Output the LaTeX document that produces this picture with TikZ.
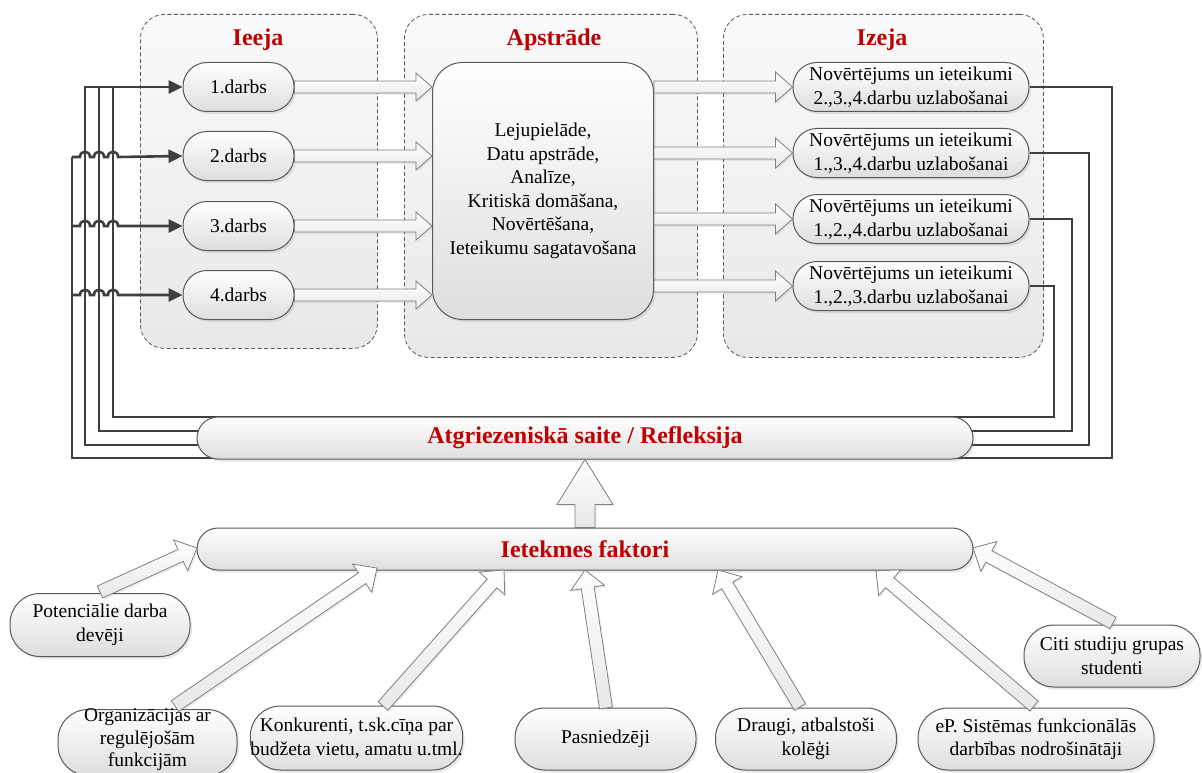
\documentclass[tikz,border=0pt]{standalone}
\usepackage{fontspec}
\setmainfont{Liberation Serif}
\usetikzlibrary{calc,shadows,arrows.meta}
\pgfdeclarelayer{grpL}
\pgfdeclarelayer{lineL}
\pgfsetlayers{grpL,lineL,main}
\definecolor{lineC}{HTML}{3F3F3F}
\definecolor{redT}{HTML}{C00000}
\definecolor{edgeC}{HTML}{595959}
\definecolor{arrC}{HTML}{7F7F7F}
\tikzset{
  every node/.style={font=\fontsize{19.5}{23.5}\selectfont},
  grp/.style={draw=edgeC, dash pattern=on 4pt off 2.5pt, line width=0.8pt, rounded corners=24pt,
    top color=white!98!black, bottom color=white!91!black, inner sep=0pt},
  pill/.style={draw=edgeC, line width=1pt, top color=white, bottom color=white!87!black,
    align=center, inner sep=0pt,
    drop shadow={opacity=0.18, shadow xshift=2pt, shadow yshift=-2.5pt}},
  inp/.style={pill, minimum width=111pt, minimum height=49pt, rounded corners=24pt},
  outp/.style={pill, minimum width=236pt, minimum height=49pt, rounded corners=24pt},
  barbox/.style={pill, minimum width=776pt, minimum height=42pt, rounded corners=21pt,
    text=redT, font=\bfseries\fontsize{24}{28}\selectfont},
  bot/.style={pill, rounded corners=30pt},
  titletxt/.style={text=redT, font=\bfseries\fontsize{24}{28}\selectfont},
  fb/.style={draw=lineC, line width=2.6pt},
  fbarr/.style={fb, -{Triangle[length=14pt,width=13pt]}},
  barrow/.style={draw=arrC, line width=0.8pt, top color=white, bottom color=white!91!black, line join=miter,
    drop shadow={opacity=0.12, shadow xshift=1.5pt, shadow yshift=-2pt}},
}
\newcommand\hop[2]{-- ({#1-5},#2) .. controls ({#1-5},{#2-7}) and ({#1+5},{#2-7}) .. ({#1+5},#2)}
\newcommand\blockarr[5]{%
  \coordinate (bacc) at ($(#2)!#5!(#1)$);
  \draw[barrow] ($(#1)!#3!90:(#2)$) -- ($(bacc)!#3!90:(#2)$) -- ($(bacc)!#4!90:(#2)$)
    -- (#2) -- ($(bacc)!#4!-90:(#2)$) -- ($(bacc)!#3!-90:(#2)$) -- ($(#1)!#3!-90:(#2)$) -- cycle;}
\begin{document}
\begin{tikzpicture}[x=1pt,y=-1pt]
\useasboundingbox (0,0) rectangle (1202,773);
\begin{pgfonlayer}{grpL}
\fill[white] (0,0) rectangle (1202,773);
\node[grp, minimum width=237pt, minimum height=334pt, anchor=north west] (gIn) at (140,14) {};
\node[grp, minimum width=293pt, minimum height=343pt, anchor=north west] (gPr) at (404,14) {};
\node[grp, minimum width=320pt, minimum height=343pt, anchor=north west] (gOut) at (723,14) {};
\end{pgfonlayer}
\node[titletxt] (tIn) at (258,40) {Ieeja};
\node[titletxt] (tPr) at (554,40) {Apstrāde};
\node[titletxt] (tOut) at (882,40) {Izeja};

\node[inp] (in1) at (238.5,87) {1.darbs};
\node[inp] (in2) at (238.5,156) {2.darbs};
\node[inp] (in3) at (238.5,226) {3.darbs};
\node[inp] (in4) at (238.5,295) {4.darbs};

\node[pill, minimum width=221pt, minimum height=257pt, rounded corners=30pt] (apst) at (543,191)
  {Lejupielāde,\\Datu apstrāde,\\Analīze,\\Kritiskā domāšana,\\Novērtēšana,\\Ieteikumu sagatavošana};

\node[outp] (out1) at (911,87) {Novērtējums un ieteikumi\\2.,3.,4.darbu uzlabošanai};
\node[outp] (out2) at (911,153) {Novērtējums un ieteikumi\\1.,3.,4.darbu uzlabošanai};
\node[outp] (out3) at (911,219) {Novērtējums un ieteikumi\\1.,2.,4.darbu uzlabošanai};
\node[outp] (out4) at (911,286) {Novērtējums un ieteikumi\\1.,2.,3.darbu uzlabošanai};

\node[barbox] (atg) at (585,438) {Atgriezeniskā saite / Refleksija};
\node[barbox] (ief) at (585,549) {Ietekmes faktori};

\node[bot, minimum width=180pt, minimum height=63pt] (pot) at (100,625) {Potenciālie darba\\devēji};
\node[bot, minimum width=179pt, minimum height=66pt, anchor=north] (org) at (147.5,709) {};
\node[align=center, inner sep=0pt, font=\fontsize{19.5}{22.5}\selectfont] (orgLbl) at (147.5,740) {Organizācijas ar\\regulējošām\\funkcijām};
\node[bot, minimum width=197pt, minimum height=64pt] (kon) at (356.5,738) {Konkurenti, t.sk.cīņa par\\budžeta vietu, amatu u.tml.};
\node[bot, minimum width=181pt, minimum height=62pt] (pas) at (605.5,739) {Pasniedzēji};
\node[bot, minimum width=181pt, minimum height=62pt] (dra) at (806,739) {Draugi, atbalstoši\\kolēģi};
\node[bot, minimum width=236pt, minimum height=62pt] (ep) at (1036,739) {eP. Sistēmas funkcionālās\\darbības nodrošinātāji};
\node[bot, minimum width=176pt, minimum height=62pt] (cit) at (1112,656) {Citi studiju grupas\\studenti};

% feedback lines
\begin{pgfonlayer}{lineL}
\draw[fb] (out1.east) -| (1112,458) -| (72,157);
\draw[fbarr] (out2.east) -| (1089,445) -| (85,87) -- (in1.west);
\draw[fb] (out3.east) -| (1072,431) -| (99,87);
\draw[fb] (out4.east) -| (1054,417) -| (113,87);
\draw[fbarr] (72,157) \hop{85}{157} \hop{99}{157} \hop{113}{157} -- (in2.west);
\draw[fbarr] (72,226) \hop{85}{226} \hop{99}{226} \hop{113}{226} -- (in3.west);
\draw[fbarr] (72,295) \hop{85}{295} \hop{99}{295} \hop{113}{295} -- (in4.west);
\end{pgfonlayer}

% block arrows input -> processing -> output
\foreach \i in {1,2,3,4}{
  \coordinate (ti\i) at (apst.west |- in\i.east);
  \blockarr{in\i.east}{ti\i}{6pt}{14pt}{16pt}
  \coordinate (to\i) at (apst.east |- out\i.west);
  \blockarr{to\i}{out\i.west}{6pt}{15pt}{17pt}
}
% big up arrow
\blockarr{ief.north}{atg.south}{10pt}{28pt}{45pt}

% factor arrows
\coordinate (potT) at (100,592);  \coordinate (potH) at (197,548);
\coordinate (orgT) at (175,706);  \coordinate (orgH) at (377,568);
\coordinate (konT) at (383,706);  \coordinate (konH) at (504,570);
\coordinate (pasT) at (606,708);  \coordinate (pasH) at (585,570);
\coordinate (draT) at (800,707);  \coordinate (draH) at (718,570);
\coordinate (epT)  at (1034,706); \coordinate (epH)  at (876,571);
\coordinate (citT) at (1113,623); \coordinate (citH) at (973,548);
\foreach \n in {pot,org,kon,pas,dra,ep,cit}{
  \blockarr{\n T}{\n H}{6.5pt}{17pt}{18pt}
}
\end{tikzpicture}
\end{document}
